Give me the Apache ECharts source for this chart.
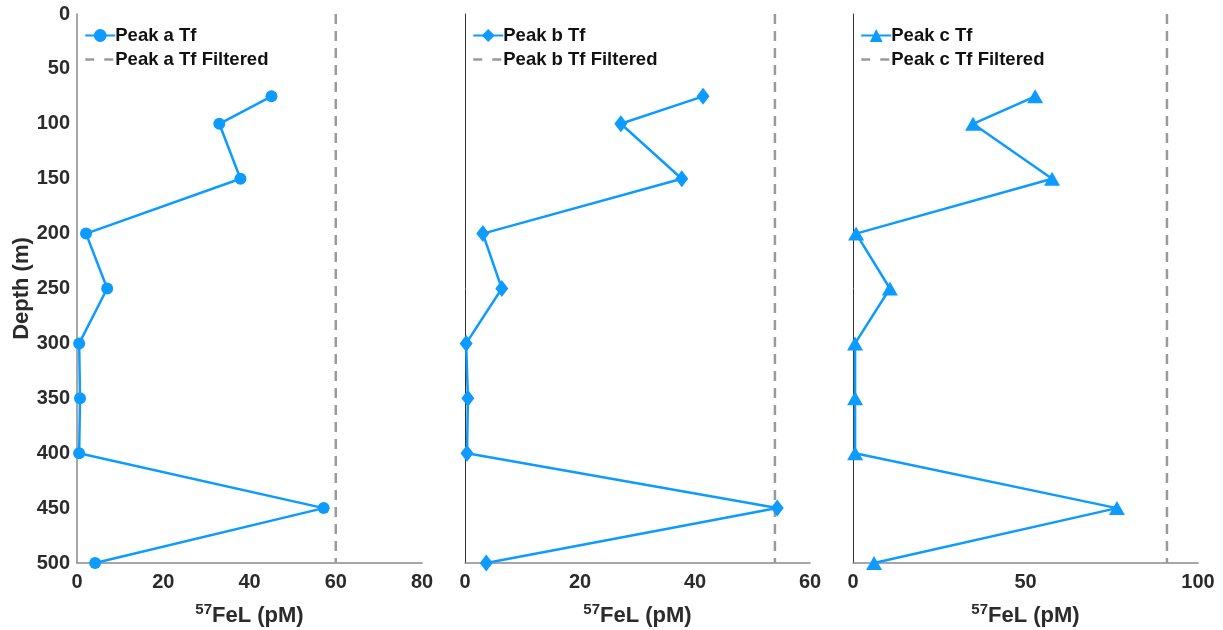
<!DOCTYPE html>
<html><head><meta charset="utf-8">
<script src="https://cdn.jsdelivr.net/npm/echarts@6/dist/echarts.min.js"></script>
<style>html,body{margin:0;padding:0;background:#fff}#c{width:1223px;height:630px}</style>
</head><body><div id="c"></div>
<script>
const depths = [75, 100, 150, 200, 250, 300, 350, 400, 450, 500];
const peakA = [45.1, 33.0, 37.9, 2.1, 7.0, 0.5, 0.7, 0.5, 57.2, 4.2];
const peakB = [41.4, 27.1, 37.7, 3.1, 6.4, 0.2, 0.5, 0.35, 54.3, 3.7];
const peakC = [52.8, 34.8, 57.7, 0.9, 10.7, 0.6, 0.6, 0.6, 76.5, 6.1];
const filtered = [60.0, 53.9, 91.0];
const names = ['Peak a Tf', 'Peak b Tf', 'Peak c Tf'];
const symbols = ['circle', 'diamond', 'triangle'];
const xMax = [80, 60, 100];
const xInterval = [20, 20, 50];
const depthRange = [0, 500];

const FONT = 'Liberation Sans, Arial, sans-serif';
const BLUE = '#0d9bff';
const TXT = '#2b2b2b';
const lefts = [77, 465, 853];
const symSizes = [12, [13, 17], [16, 14]];
const series = [], grids = [], xAxes = [], yAxes = [], legends = [];
const allVals = [peakA, peakB, peakC];
for (let i = 0; i < 3; i++) {
  grids.push({left: lefts[i], width: 345, top: 14, height: 549, containLabel: false, outerBoundsMode: 'none'});
  xAxes.push({
    type: 'value', gridIndex: i, min: 0, max: xMax[i], interval: xInterval[i], position: 'bottom',
    axisLine: {show: true, onZero: false, lineStyle: {color: '#8a8a8a', width: 1.5}},
    axisTick: {show: false}, splitLine: {show: false},
    axisLabel: {color: TXT, fontSize: 20, fontWeight: 'bold', fontFamily: FONT, margin: 9},
    name: '{sup|57}{n|FeL (pM)}', nameLocation: 'middle', nameGap: 39,
    nameTextStyle: {rich: {
      sup: {fontSize: 15, fontWeight: 'bold', fontFamily: FONT, color: TXT, verticalAlign: 'top', padding: [0,0,12,0]},
      n: {fontSize: 22, fontWeight: 'bold', fontFamily: FONT, color: TXT}
    }}
  });
  yAxes.push({
    type: 'value', gridIndex: i, inverse: true, min: depthRange[0], max: depthRange[1], interval: 50,
    axisLine: {show: true, onZero: false, lineStyle: {color: i === 0 ? '#8a8a8a' : '#333', width: i === 0 ? 1.5 : 1}},
    axisTick: {show: false}, splitLine: {show: false},
    axisLabel: {show: i === 0, color: TXT, fontSize: 20, fontWeight: 'bold', fontFamily: FONT, margin: 7},
    name: i === 0 ? 'Depth (m)' : '', nameLocation: 'middle', nameGap: 44, nameRotate: 90,
    nameTextStyle: {fontSize: 22, fontWeight: 'bold', fontFamily: FONT, color: TXT}
  });
  series.push({
    name: names[i], type: 'line', xAxisIndex: i, yAxisIndex: i,
    data: depths.map((d, k) => [allVals[i][k], d]),
    symbol: symbols[i], symbolSize: symSizes[i],
    itemStyle: {color: BLUE}, lineStyle: {color: BLUE, width: 2.5}
  });
  series.push({
    name: names[i] + ' Filtered', type: 'line', xAxisIndex: i, yAxisIndex: i,
    data: [[filtered[i], depthRange[0]], [filtered[i], depthRange[1]]],
    symbol: 'none', lineStyle: {color: '#9a9a9a', width: 2.5, type: [10, 7]}, itemStyle: {color: '#9a9a9a'}
  });
  legends.push({
    left: lefts[i] + 7, top: 26, orient: 'vertical', itemGap: 5, itemWidth: 30, itemHeight: 16,
    data: [{name: names[i]}, {name: names[i] + ' Filtered', itemStyle: {opacity: 0},
      lineStyle: {type: [9, 10], color: '#9a9a9a', width: 2.5}}],
    textStyle: {fontSize: 18.5, fontWeight: 'bold', fontFamily: FONT, color: '#111', padding: [0,0,0,-5]},
    padding: 0
  });
}
const chart = echarts.init(document.getElementById('c'));
chart.setOption({
  animation: false, backgroundColor: '#fff',
  grid: grids, xAxis: xAxes, yAxis: yAxes, legend: legends, series: series
});
</script></body></html>
